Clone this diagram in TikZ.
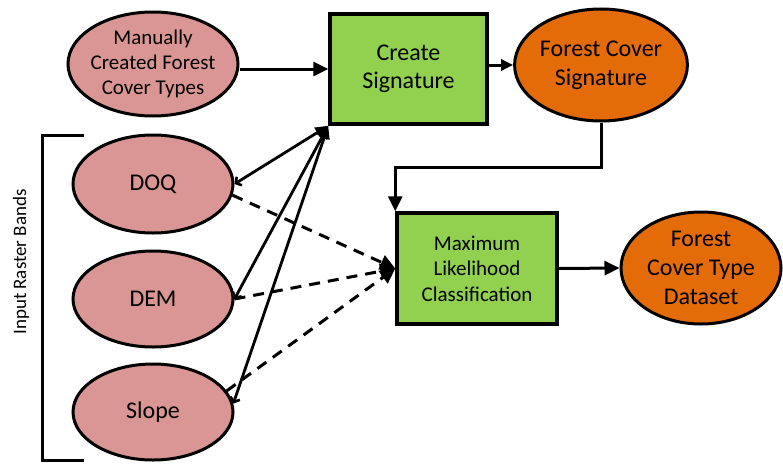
\documentclass[tikz,border=0pt]{standalone}
\usepackage{fontspec}
\setmainfont{Carlito}
\usetikzlibrary{arrows.meta,shapes.geometric,calc}
\definecolor{bandpink}{HTML}{D99694}
\definecolor{procgreen}{HTML}{92D050}
\definecolor{outorange}{HTML}{E36C09}
\tikzset{
  band/.style={ellipse, draw=black, line width=3pt, fill=bandpink, inner sep=0pt,
    align=center, font=\fontsize{24}{29}\selectfont},
  procbox/.style={rectangle, draw=black, line width=3.5pt, fill=procgreen, inner sep=0pt,
    align=center},
  outell/.style={ellipse, draw=black, line width=3pt, fill=outorange, inner sep=0pt,
    align=center, font=\fontsize{24}{29}\selectfont},
  flow/.style={line width=3pt, -{Triangle[length=15pt,width=14pt]}},
  feed/.style={line width=2.8pt, {Straight Barb[length=4pt,width=10pt,line width=2.6pt]}-{Triangle[length=13pt,width=11pt]}},
  dflow/.style={line width=3pt, dash pattern=on 11pt off 8pt, -{Triangle[length=15pt,width=15pt]}},
}
\begin{document}
\begin{tikzpicture}[x=1pt,y=-1pt]
\useasboundingbox (0,0) rectangle (783,463);

% input and reference nodes
\node[band, minimum width=170pt, minimum height=104pt, inner xsep=-12pt, inner ysep=-6pt,
  font=\fontsize{21}{25}\selectfont]
  (man) at (153,64) {Manually\\Created Forest\\Cover Types};
\node[band, minimum width=160pt, minimum height=98pt] (doq) at (153,184) {DOQ};
\node[band, minimum width=160pt, minimum height=96pt] (dem) at (153,299) {DEM};
\node[band, minimum width=160pt, minimum height=96pt] (slope) at (153,412) {Slope};

% processing steps
\node[procbox, minimum width=157pt, minimum height=110pt, font=\fontsize{24}{28}\selectfont]
  (cs) at (408.5,69) {Create\\Signature};
\node[procbox, minimum width=160pt, minimum height=111pt, font=\fontsize{21}{25.5}\selectfont]
  (ml) at (477,268.5) {Maximum\\Likelihood\\Classification};

% outputs
\node[outell, minimum width=172pt, minimum height=112pt] (fcs) at (601,65) {Forest Cover\\Signature};
\node[outell, minimum width=160pt, minimum height=112pt, inner xsep=-8pt, inner ysep=-8pt]
  (fctd) at (701,268) {Forest\\Cover Type\\Dataset};

% bracket grouping the raster bands
\coordinate (bt) at (84,135);
\coordinate (bb) at (84,460);
\draw[line width=3pt] (bt) -- (42,135) -- (42,460) -- (bb);
\node[rotate=90, font=\fontsize{19}{22}\selectfont] (irb) at (21,262) {Input Raster Bands};

% signature creation
\draw[flow] (man.east |- cs.west) -- (cs.west);
\draw[feed] (doq.east) -- (cs.south west);
\draw[feed] (dem.east) -- (cs.south west);
\draw[feed] (slope.6) -- (cs.south west);
\draw[line width=3pt, -{Triangle[length=12pt,width=11pt]}] (cs.east |- fcs.west) -- (fcs.west);

% classification
\draw[flow] (fcs.south) -- ++(0,45) -| (ml.north west);
\draw[dflow] (doq.-8) -- (ml.west);
\draw[dflow] (dem.east) -- (ml.west);
\draw[dflow] (slope.16) -- (ml.west);
\draw[flow] (ml.east) -- (fctd.west);
\end{tikzpicture}
\end{document}
